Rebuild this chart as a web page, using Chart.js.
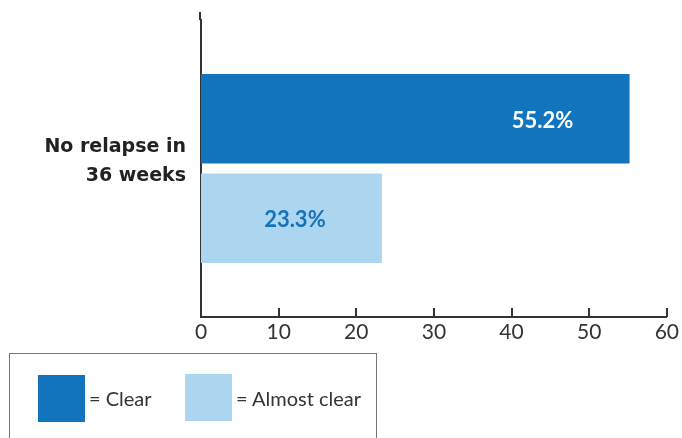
<!DOCTYPE html>
<html>
<head>
<meta charset="utf-8">
<script src="https://cdn.jsdelivr.net/npm/chart.js@4/dist/chart.umd.min.js"></script>
<style>
  body { margin: 0; background: #fff; }
  #wrap { position: relative; width: 682px; height: 438px; overflow: hidden; }
  #legend {
    position: absolute; left: 9px; top: 353px; width: 368px; height: 120px;
    border: 1.5px solid #777; box-sizing: border-box;
    font-family: Lato, sans-serif; font-size: 20px; color: #333;
  }
  .sw { position: absolute; width: 47px; height: 47px; }
  .lt { position: absolute; line-height: 24px; white-space: nowrap; }
</style>
</head>
<body>
<div id="wrap">
  <canvas id="chart" width="682" height="438"></canvas>
  <div id="legend">
    <div class="sw" style="left:28px;top:21px;background:#1174bc"></div>
    <div class="lt" style="left:79px;top:32px">= Clear</div>
    <div class="sw" style="left:175px;top:20px;background:#acd5f0"></div>
    <div class="lt" style="left:226px;top:32px">= Almost clear</div>
  </div>
</div>
<script>
const categories = [['No relapse in', '36 weeks']]
const seriesNames = ['Clear', 'Almost clear']
const clearValues = [55.2]
const almostClearValues = [23.3]
const xTicks = [0, 10, 20, 30, 40, 50, 60]

const axisColor = '#333'

// extra drawing: axis extension, inward ticks, value labels
const extras = {
  id: 'extras',
  afterDraw(chart) {
    const ctx = chart.ctx
    const area = chart.chartArea
    const xs = chart.scales.x
    ctx.save()
    ctx.strokeStyle = axisColor
    ctx.lineWidth = 2
    ctx.beginPath()
    ctx.moveTo(area.left - 1, 12)
    ctx.lineTo(area.left - 1, area.top)
    ctx.stroke()
    xTicks.forEach(function (v) {
      const px = Math.round(xs.getPixelForValue(v))
      ctx.beginPath()
      ctx.moveTo(px, area.bottom)
      ctx.lineTo(px, area.bottom - 9)
      ctx.stroke()
    })
    ctx.font = 'bold 22px Lato, sans-serif'
    ctx.textAlign = 'center'
    ctx.textBaseline = 'middle'
    const colors = ['#ffffff', '#1572b9']
    chart.data.datasets.forEach(function (ds, i) {
      chart.getDatasetMeta(i).data.forEach(function (bar, j) {
        ctx.fillStyle = colors[i]
        ctx.fillText(ds.data[j].toFixed(1) + '%', bar.x - 87, bar.y + 2)
      })
    })
    ctx.restore()
  }
}

new Chart(document.getElementById('chart'), {
  type: 'bar',
  data: {
    labels: categories,
    datasets: [
      { label: seriesNames[0], data: clearValues, backgroundColor: '#1174bc' },
      { label: seriesNames[1], data: almostClearValues, backgroundColor: '#acd5f0' }
    ]
  },
  options: {
    indexAxis: 'y',
    responsive: false,
    animation: false,
    categoryPercentage: 0.67,
    barPercentage: 0.9,
    layout: { padding: { top: 20, right: 15, left: 0, bottom: 0 } },
    plugins: { legend: { display: false }, tooltip: { enabled: false } },
    scales: {
      x: {
        min: 0, max: 60,
        afterBuildTicks: function (s) { s.ticks = xTicks.map(v => ({ value: v })) },
        afterFit: function (s) { s.height = 438 - 317 },
        grid: { display: false, drawTicks: false },
        border: { display: true, color: axisColor, width: 2 },
        ticks: { color: '#333', padding: 3, font: { family: 'Lato, sans-serif', size: 21 } }
      },
      y: {
        afterFit: function (s) { s.width = 201; s.paddingTop = 0; s.paddingBottom = 0 },
        grid: { display: false, drawTicks: false },
        border: { display: true, color: axisColor, width: 2 },
        ticks: {
          color: '#222', padding: 15, labelOffset: -7,
          font: { family: 'DejaVu Sans, sans-serif', size: 19, weight: 'bold', lineHeight: 1.5 }
        }
      }
    }
  },
  plugins: [extras]
})
</script>
</body>
</html>
